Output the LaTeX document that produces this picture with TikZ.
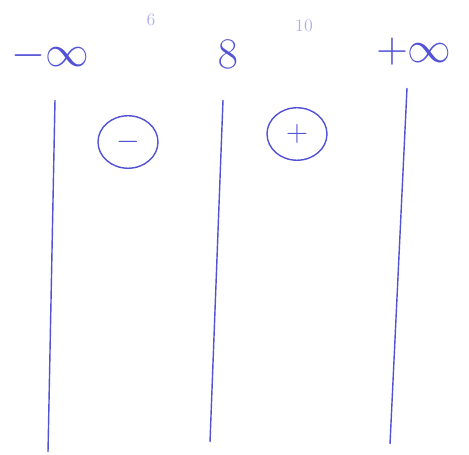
\documentclass[tikz,border=0pt]{standalone}
\usepackage{tikz}
\usetikzlibrary{positioning, shapes.geometric}
\definecolor{ink}{RGB}{82,82,212}

\begin{document}
\begin{tikzpicture}[
    x=0.02cm, y=-0.02cm,
    bound/.style={
        text=ink,
        font=\fontsize{26}{30}\selectfont,
    },
    note/.style={
        text=ink!45,
        font=\normalsize,
    },
    sign/.style={
        draw=ink,
        thick,
        ellipse,
        minimum width=1.2cm,
        minimum height=1.05cm,
        text=ink,
        font=\LARGE,
    },
    rule/.style={
        draw=ink,
        thick,
    },
]
    \useasboundingbox (0,0) rectangle (469,455);

    \node[bound] (minf) at (50,56) {$-\infty$};
    \node[bound] (root) at (228,54) {$8$};
    \node[bound] (pinf) at (414,52) {$+\infty$};
    \node[note] (six) at (151,20) {$6$};
    \node[note] (ten) at (304,26) {$10$};

    \coordinate (l1top) at (55,100);
    \coordinate (l1bot) at (48,452);
    \coordinate (l2top) at (223,100);
    \coordinate (l2bot) at (210,442);
    \coordinate (l3top) at (407,88);
    \coordinate (l3bot) at (390,444);

    \node[sign] (neg) at (128,142) {$-$};
    \node[sign] (pos) at (297,134) {$+$};

    % Draw lines
    \draw[rule] (l1top) -- (l1bot);
    \draw[rule] (l2top) -- (l2bot);
    \draw[rule] (l3top) -- (l3bot);

\end{tikzpicture}
\end{document}
